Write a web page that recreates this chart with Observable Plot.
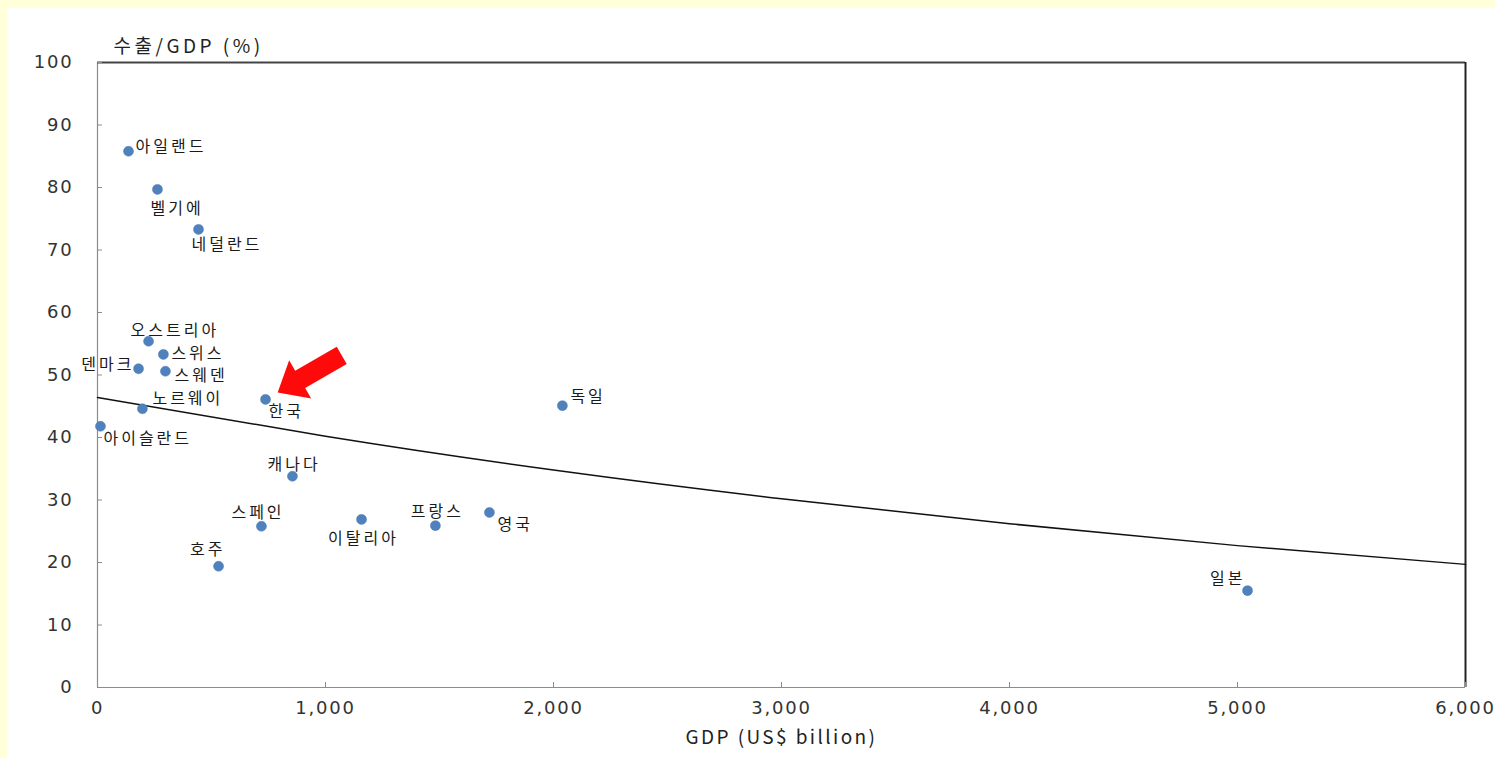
<!DOCTYPE html>
<html>
<head>
<meta charset="utf-8">
<script src="https://cdn.jsdelivr.net/npm/d3@7"></script>
<script src="https://cdn.jsdelivr.net/npm/@observablehq/plot@0.6"></script>
<style>
  html, body { margin: 0; padding: 0; background: #ffffff; }
  #wrap { border-top: 8px solid #FFFFDA; border-left: 7px solid #FFFFDA; width: 1488px; height: 750px; overflow: hidden; }
  .ticklab text { font-family: "DejaVu Sans", sans-serif; font-size: 18px; letter-spacing: 1.8px; fill: #333; }
  .ctry text { font-family: "Noto Sans CJK KR", sans-serif; font-size: 16px; letter-spacing: 3px; fill: #1a1a1a; }
  .ttl text { font-family: "Noto Sans CJK KR", "DejaVu Sans", sans-serif; font-size: 19px; fill: #222; }
  .ttly text { letter-spacing: 3.5px; }
  .ttlx text { letter-spacing: 2.4px; }
</style>
</head>
<body>
<div id="wrap"></div>
<script>
// ---- data ----
const countries   = ["아일랜드","벨기에","네덜란드","오스트리아","스위스","덴마크","스웨덴","노르웨이","아이슬란드","한국","독일","캐나다","스페인","이탈리아","프랑스","영국","호주","일본"];
const gdp         = [136, 263, 443, 224, 289, 180, 298, 197, 13, 737, 2039, 855, 719, 1158, 1482, 1719, 531, 5044];
const exportShare = [85.8, 79.7, 73.3, 55.4, 53.3, 51.0, 50.6, 44.6, 41.8, 46.1, 45.1, 33.8, 25.8, 26.9, 25.9, 28.0, 19.4, 15.5];

// trend line read at each 1,000
const trendGdp   = [0, 1000, 2000, 3000, 4000, 5000, 6000];
const trendShare = [46.4, 40.2, 34.8, 30.2, 26.2, 22.7, 19.7];

const xTicks = [0, 1000, 2000, 3000, 4000, 5000, 6000];
const yTicks = [0, 10, 20, 30, 40, 50, 60, 70, 80, 90, 100];

const yTitle = "수출/GDP (%)";
const xTitle = "GDP (US$ billion)";
const highlight = "한국";

// label placement (pixels relative to the dot), kept apart from the data
const labelPlacement = [
  {anchor: "start",  dx: 7,   dy: -4},
  {anchor: "start",  dx: -7,  dy: 19},
  {anchor: "start",  dx: -7,  dy: 15},
  {anchor: "start",  dx: -18, dy: -10},
  {anchor: "start",  dx: 8,   dy: -1},
  {anchor: "end",    dx: -4,  dy: -4},
  {anchor: "start",  dx: 9,   dy: 5},
  {anchor: "start",  dx: 10,  dy: -10},
  {anchor: "start",  dx: 3,   dy: 13},
  {anchor: "start",  dx: 3,   dy: 12},
  {anchor: "start",  dx: 8,   dy: -9},
  {anchor: "start",  dx: -25, dy: -11},
  {anchor: "start",  dx: -30, dy: -13},
  {anchor: "middle", dx: 2,   dy: 19},
  {anchor: "middle", dx: 2,   dy: -14},
  {anchor: "start",  dx: 8,   dy: 12},
  {anchor: "end",    dx: 7,   dy: -16},
  {anchor: "end",    dx: -2,  dy: -12}
];

const points = countries.map((c, i) => ({country: c, gdp: gdp[i], share: exportShare[i]}));
const trend = trendGdp.map((g, i) => ({gdp: g, share: trendShare[i]}));

// block arrow drawn from the dot outwards
const blockArrow = {
  draw(ctx, l) {
    const gap = 14, hl = 26, hw = 22, sw = 10;
    ctx.moveTo(0, -gap);
    ctx.lineTo(hw, -gap - hl);
    ctx.lineTo(sw, -gap - hl);
    ctx.lineTo(sw, -l);
    ctx.lineTo(-sw, -l);
    ctx.lineTo(-sw, -gap - hl);
    ctx.lineTo(-hw, -gap - hl);
    ctx.closePath();
  }
};

const labelMarks = points.map((p, i) => Plot.text([p], {
  x: "gdp", y: "share", text: "country",
  textAnchor: labelPlacement[i].anchor,
  dx: labelPlacement[i].dx, dy: labelPlacement[i].dy,
  className: "ctry"
}));

const chart = Plot.plot({
  width: 1488,
  height: 750,
  marginLeft: 90,
  marginRight: 30,
  marginTop: 54,
  marginBottom: 71,
  style: {background: "#ffffff", overflow: "visible"},
  x: {domain: [0, 6000], ticks: xTicks},
  y: {domain: [0, 100], ticks: yTicks},
  marks: [
    // frame
    Plot.ruleX([0], {stroke: "#8c8c8c", strokeWidth: 1.2}),
    Plot.ruleY([0], {stroke: "#8c8c8c", strokeWidth: 1.2}),
    Plot.ruleY([100], {stroke: "#444", strokeWidth: 2}),
    Plot.ruleX([6000], {stroke: "#222", strokeWidth: 2}),
    // inner tick marks
    Plot.axisX({ticks: xTicks, tickSize: -5, text: null, stroke: "#8c8c8c", label: null}),
    Plot.axisY({ticks: yTicks, tickSize: -5, text: null, stroke: "#8c8c8c", label: null}),
    // tick labels
    Plot.axisX({ticks: xTicks, tickSize: 0, tickPadding: 14, tickFormat: d3.format(","), label: null, className: "ticklab"}),
    Plot.axisY({ticks: yTicks, tickSize: 0, tickPadding: 24, label: null, className: "ticklab"}),
    // axis titles
    Plot.text([yTitle], {frameAnchor: "top-left", textAnchor: "start", dx: 16, dy: -23, className: "ttl ttly"}),
    Plot.text([xTitle], {frameAnchor: "bottom", dy: 56, className: "ttl ttlx"}),
    // trend
    Plot.line(trend, {x: "gdp", y: "share", curve: "natural", stroke: "#111", strokeWidth: 1.5}),
    // dots
    Plot.dot(points, {x: "gdp", y: "share", r: 5, fill: "#4F81BD", stroke: "#4A7AB5", strokeWidth: 0.5}),
    // labels
    ...labelMarks,
    // arrow to Korea
    Plot.vector(points.filter(d => d.country === highlight), {
      x: "gdp", y: "share", anchor: "start", rotate: 60, length: 88,
      shape: blockArrow, fill: "#FF0A0A", stroke: "none"
    })
  ]
});

document.getElementById("wrap").appendChild(chart);
</script>
</body>
</html>
